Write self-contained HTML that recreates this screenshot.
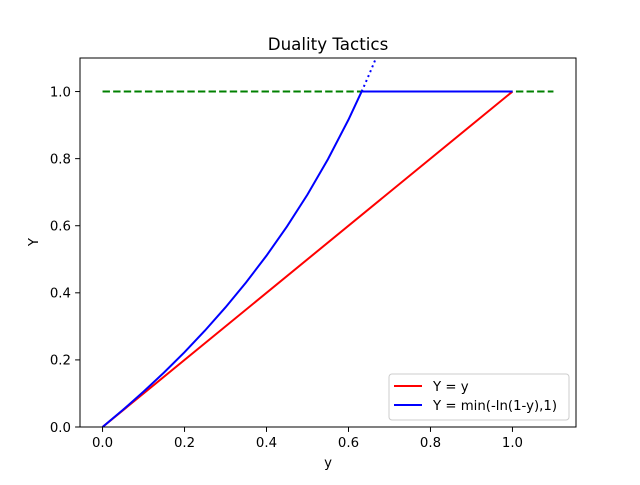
<!DOCTYPE html>
<html><head><meta charset="utf-8"><style>
body{margin:0;background:#fff}
svg text{font-family:"DejaVu Sans","Liberation Sans",sans-serif;fill:#000}
</style></head><body>
<svg id="chart" width="640" height="480">
<defs><clipPath id="clip"><rect x="80" y="58" width="496" height="369"/></clipPath></defs>
<rect x="0" y="0" width="640" height="480" fill="#fff"/>
<text x="328" y="50" font-size="16.7" text-anchor="middle">Duality Tactics</text>
<g id="plot" clip-path="url(#clip)"></g>
<g id="axes"></g>
</svg>
<script>
const xTicks=[0.0,0.2,0.4,0.6,0.8,1.0];
const yTicks=[0.0,0.2,0.4,0.6,0.8,1.0];
const xTickLabels=["0.0","0.2","0.4","0.6","0.8","1.0"];
const yTickLabels=["0.0","0.2","0.4","0.6","0.8","1.0"];
const redX=[0,1];
const redY=[0,1];
const blueX=[0,0.05,0.1,0.15,0.2,0.25,0.3,0.35,0.4,0.45,0.5,0.55,0.6,0.632,1.0];
const blueY=[0,0.0513,0.1054,0.1625,0.2231,0.2877,0.3567,0.4308,0.5108,0.5978,0.6931,0.7985,0.9163,1.0,1.0];
const dotX=[0.632,0.64,0.65,0.66,0.667,0.68];
const dotY=[1.0,1.0217,1.0498,1.0788,1.0996,1.139];
const greenX=[0,1.1];
const greenY=[1,1];
const L=80,R=576,T=58,B=427,xmin=-0.055,xmax=1.155,ymin=0,ymax=1.1;
const sx=v=>L+(v-xmin)/(xmax-xmin)*(R-L);
const sy=v=>B-(v-ymin)/(ymax-ymin)*(B-T);
const NS="http://www.w3.org/2000/svg";
const plot=document.getElementById('plot'),axes=document.getElementById('axes');
function mk(tag,attrs,parent){const e=document.createElementNS(NS,tag);for(const k in attrs)e.setAttribute(k,attrs[k]);parent.appendChild(e);return e;}
function line(xs,ys,color,dash,name){
 const p=mk('polyline',{points:xs.map((x,i)=>sx(x)+','+sy(ys[i])).join(' '),fill:'none',stroke:color,'stroke-width':2,'stroke-dasharray':dash||'none'},plot);
 
 
}
line(greenX,greenY,'#008000','7.4,3.2','green-dashed-line');
line(dotX,dotY,'#0000ff','2,3.3','blue-dotted-extension');
line(redX,redY,'#ff0000',null,'red-line');
line(blueX,blueY,'#0000ff',null,'blue-curve');
const fr=mk('rect',{x:L,y:T,width:R-L,height:B-T,fill:'none',stroke:'#000','stroke-width':1},axes);


xTicks.forEach((v,i)=>{
 mk('line',{x1:sx(v),x2:sx(v),y1:B,y2:B+4.9,stroke:'#000','stroke-width':1},axes);
 const t=mk('text',{x:sx(v),y:B+20,'font-size':13.3,'text-anchor':'middle'},axes);t.textContent=xTickLabels[i];
 
 
});
yTicks.forEach((v,i)=>{
 mk('line',{x1:L-4.9,x2:L,y1:sy(v),y2:sy(v),stroke:'#000','stroke-width':1},axes);
 const t=mk('text',{x:L-9,y:sy(v)+4.8,'font-size':13.3,'text-anchor':'end'},axes);t.textContent=yTickLabels[i];
 
 
});
const xl=mk('text',{x:328,y:467,'font-size':13.3,'text-anchor':'middle'},axes);xl.textContent='y';


const yl=mk('text',{x:0,y:0,'font-size':13.3,'text-anchor':'middle',transform:'translate(38,242) rotate(-90)'},axes);yl.textContent='Y';


const lg=mk('g',{},axes);


mk('rect',{x:389,y:374,width:180,height:46,rx:3,fill:'#fff','fill-opacity':0.8,stroke:'#ccc','stroke-width':1},lg);
const items=[['#ff0000','Y = y',386],['#0000ff','Y = min(-ln(1-y),1)',405]];
items.forEach(([c,lab,y])=>{
 mk('line',{x1:394,x2:422,y1:y,y2:y,stroke:c,'stroke-width':2},lg);
 const t=mk('text',{x:433,y:y+4.8,'font-size':13.3},lg);t.textContent=lab;
 
 
});
</script>
</body></html>
